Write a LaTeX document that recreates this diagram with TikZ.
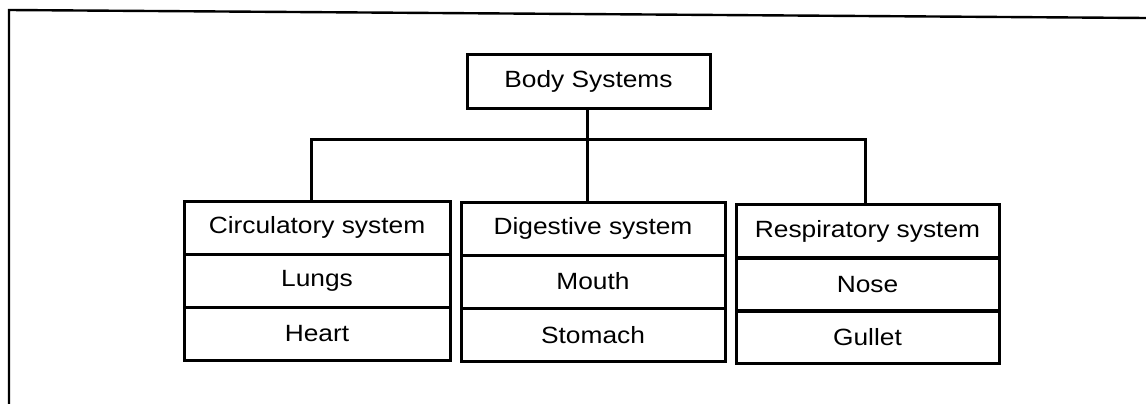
\documentclass[tikz,border=0pt]{standalone}
\usepackage{fontspec}
\setmainfont{Liberation Sans}[FakeStretch=1.12]
\begin{document}
\begin{tikzpicture}[x=1pt,y=-1pt,
  cell/.style={draw=black, line width=3pt, minimum height=53pt, inner sep=0pt,
    font=\fontsize{23.5}{28}\selectfont, text=black, anchor=center},
  conn/.style={draw=black, line width=3pt},
  frame/.style={draw=black, line width=2.4pt}]
\useasboundingbox (0,0) rectangle (1146,404);
% outer frame (top and left edges only)
\coordinate (ftr) at (1146,18);
\coordinate (ftl) at (9,10);
\coordinate (fbl) at (9,404);
\draw[frame] (ftr) -- (ftl) -- (fbl);
% root
\node[cell, minimum width=243pt] (body) at (588.5,81.5) {Body Systems};
% circulatory column
\node[cell, minimum width=266pt] (circ)  at (317,227.5) {Circulatory system};
\node[cell, minimum width=266pt] (lungs) at (317,280.5) {Lungs};
\node[cell, minimum width=266pt] (heart) at (317,333.5) {Heart};
% digestive column
\node[cell, minimum width=264pt] (dig)   at (593,228.5) {Digestive system};
\node[cell, minimum width=264pt] (mouth) at (593,281.5) {Mouth};
\node[cell, minimum width=264pt] (stom)  at (593,335) {Stomach};
% respiratory column
\node[cell, minimum width=263pt] (resp)  at (867.5,231) {Respiratory system};
\node[cell, minimum width=263pt] (nose)  at (867.5,284.5) {Nose};
\node[cell, minimum width=263pt] (gul)   at (867.5,337) {Gullet};
% connectors
\coordinate (bar) at (0,139);
\draw[conn] ([xshift=-6pt]circ.north) -- ([xshift=-6pt]circ.north |- bar)
  -- ([xshift=-2.5pt]resp.north |- bar) -- ([xshift=-2.5pt]resp.north);
\draw[conn] ([xshift=-1.5pt]body.south) -- ([xshift=-1.5pt]body.south |- dig.north);
\end{tikzpicture}
\end{document}
